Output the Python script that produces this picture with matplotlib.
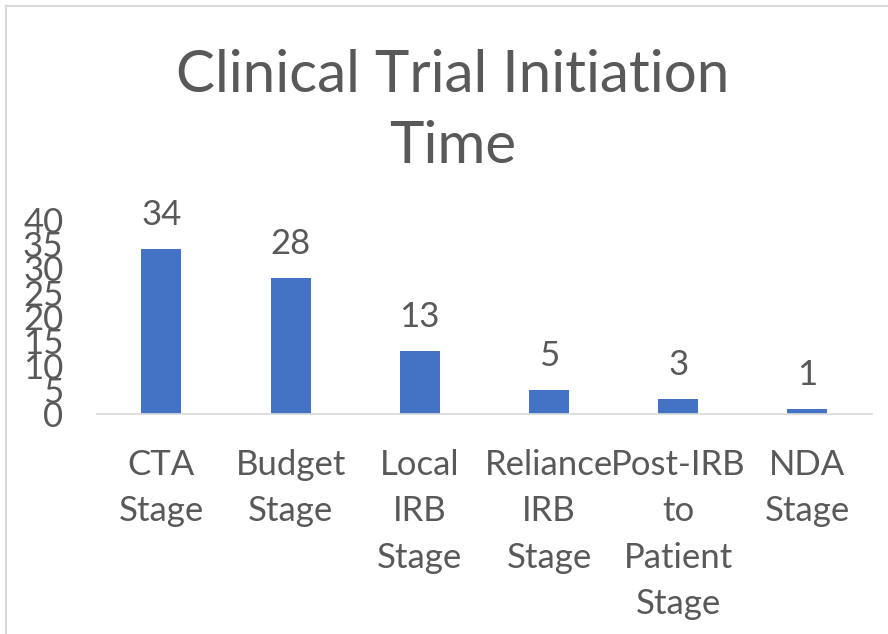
import matplotlib.pyplot as plt
from matplotlib.lines import Line2D

# data
stages = ['CTA\nStage', 'Budget\nStage', 'Local\nIRB\nStage', 'Reliance\nIRB\nStage',
          'Post-IRB\nto\nPatient\nStage', 'NDA\nStage']
days = [34, 28, 13, 5, 3, 1]
yticks = [0, 5, 10, 15, 20, 25, 30, 35, 40]

text_col = '#595959'
bar_col = '#4472C4'
plt.rcParams['font.family'] = ['Lato', 'DejaVu Sans']

fig = plt.figure(figsize=(8.88, 6.34), dpi=100)
ax = fig.add_axes([0.109, 0.347, 0.873, 0.306])

x = range(len(stages))
bars = ax.bar(x, days, width=0.31, color=bar_col)

ax.set_ylim(0, 40)
ax.set_xlim(-0.5, len(stages) - 0.5)
ax.set_yticks(yticks)
ax.set_yticklabels([str(t) for t in yticks])
ax.set_xticks(list(x))
ax.set_xticklabels(stages, linespacing=1.56, va='top')
ax.tick_params(axis='y', length=0, pad=24, labelsize=25, labelcolor=text_col)
ax.tick_params(axis='x', length=0, pad=25, labelsize=25, labelcolor=text_col)

for s in ['top', 'right', 'left']:
    ax.spines[s].set_visible(False)
ax.spines['bottom'].set_color('#D9D9D9')
ax.spines['bottom'].set_linewidth(1.2)

for b, v in zip(bars, days):
    ax.annotate(str(v), (b.get_x() + b.get_width() / 2, v), xytext=(0, 13),
                textcoords='offset points', ha='center', va='bottom',
                fontsize=25, color=text_col)

fig.text(0.51, 0.825, 'Clinical Trial Initiation\nTime', ha='center', va='center',
         fontsize=42, color=text_col, linespacing=1.42)

# chart area border (left and top edges visible)
fig.add_artist(Line2D([6 / 888, 6 / 888], [0, 1 - 6 / 634], transform=fig.transFigure,
                      color='#D9D9D9', lw=1.5))
fig.add_artist(Line2D([6 / 888, 1], [1 - 6 / 634, 1 - 6 / 634], transform=fig.transFigure,
                      color='#D9D9D9', lw=1.5))

fig.savefig('out.png', dpi=100)
